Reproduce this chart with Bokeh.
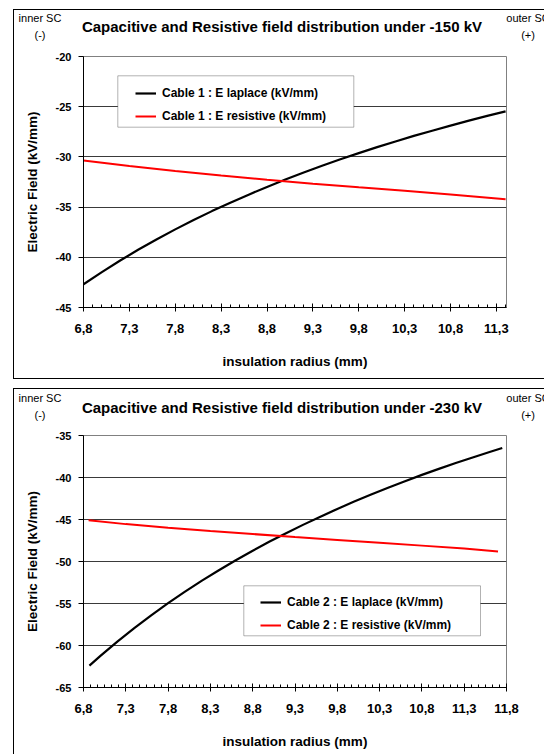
import math
from bokeh.plotting import figure
from bokeh.models import (Range1d, FixedTicker, CustomJSTickFormatter,
                          Legend, LegendItem, BoxAnnotation, Div)
from bokeh.layouts import column, row
from bokeh.embed import file_html
from bokeh.resources import INLINE

FONT = "Liberation Sans"

# ---------------- Chart 1 (-150 kV) ----------------
c1_title = "Capacitive and Resistive field distribution under -150 kV"
c1_labels = ["Cable 1 : E laplace (kV/mm)", "Cable 1 : E resistive (kV/mm)"]
c1_r_laplace = [6.8, 7.0, 7.2, 7.4, 7.6, 7.8, 8.0, 8.2, 8.4, 8.6, 8.8, 9.0,
                9.2, 9.4, 9.6, 9.8, 10.0, 10.2, 10.4, 10.6, 10.8, 11.0, 11.2, 11.4]
c1_e_laplace = [-42.69, -41.47, -40.32, -39.23, -38.20, -37.22, -36.29, -35.40,
                -34.56, -33.76, -32.99, -32.26, -31.55, -30.88, -30.24, -29.62,
                -29.03, -28.46, -27.91, -27.39, -26.88, -26.39, -25.92, -25.46]
c1_r_resist = [6.8, 7.3, 7.8, 8.3, 8.8, 9.3, 9.8, 10.3, 10.8, 11.4]
c1_e_resist = [-30.37, -30.90, -31.40, -31.85, -32.27, -32.67, -33.03, -33.37,
               -33.75, -34.22]
c1_xticks = [6.8, 7.3, 7.8, 8.3, 8.8, 9.3, 9.8, 10.3, 10.8, 11.3]
c1_yticks = [-45, -40, -35, -30, -25, -20]

# ---------------- Chart 2 (-230 kV) ----------------
c2_title = "Capacitive and Resistive field distribution under -230 kV"
c2_labels = ["Cable 2 : E laplace (kV/mm)", "Cable 2 : E resistive (kV/mm)"]
c2_r_laplace = [6.87, 7.0, 7.2, 7.4, 7.6, 7.8, 8.0, 8.2, 8.4, 8.6, 8.8, 9.0,
                9.2, 9.4, 9.6, 9.8, 10.0, 10.2, 10.4, 10.6, 10.8, 11.0, 11.2,
                11.4, 11.6, 11.75]
c2_e_laplace = [-62.40, -61.24, -59.54, -57.93, -56.41, -54.96, -53.59, -52.28,
                -51.04, -49.85, -48.72, -47.63, -46.60, -45.61, -44.66, -43.74,
                -42.87, -42.03, -41.22, -40.44, -39.69, -38.97, -38.28, -37.61,
                -36.96, -36.49]
c2_r_resist = [6.86, 7.3, 7.8, 8.3, 8.8, 9.3, 9.8, 10.3, 10.8, 11.3, 11.7]
c2_e_resist = [-45.10, -45.55, -45.97, -46.36, -46.73, -47.09, -47.43, -47.77,
               -48.11, -48.45, -48.80]
c2_xticks = [6.8, 7.3, 7.8, 8.3, 8.8, 9.3, 9.8, 10.3, 10.8, 11.3, 11.8]
c2_yticks = [-65, -60, -55, -50, -45, -40, -35]

x_label = "insulation radius (mm)"
y_label = "Electric Field (kV/mm)"
left_note = ["inner SC", "(-)"]
right_note = ["outer SC", "(+)"]


def header(title, pad_title, pad_notes):
    note_css = ("font-family:'Liberation Sans';font-size:11px;color:#000;"
                "text-align:center;line-height:17px;white-space:nowrap;margin:0;")
    d_left = Div(width=52, height=36, margin=0,
                 text=f'<div style="{note_css}padding-top:{pad_notes}px;width:52px">'
                      f'{left_note[0]}<br>{left_note[1]}</div>')
    d_title = Div(width=432, height=36, margin=0,
                  text=f'<div style="font-family:\'Liberation Sans\';font-weight:bold;'
                       f'font-size:15px;color:#000;text-align:center;line-height:18px;'
                       f'white-space:nowrap;margin:0;padding-top:{pad_title}px;width:432px">'
                       f'{title}</div>')
    d_right = Div(width=46, height=36, margin=0, styles={"overflow": "hidden"},
                  text=f'<div style="{note_css}padding-top:{pad_notes}px;width:60px">'
                       f'{right_note[0]}<br>{right_note[1]}</div>')
    return row(d_left, d_title, d_right, spacing=0)


def make_chart(r_lap, e_lap, r_res, e_res, labels, xticks, x_end, n_minor,
               yticks, height, mb_bottom, leg_loc, box):
    p = figure(width=530, height=height, output_backend="svg", toolbar_location=None,
               x_range=Range1d(xticks[0], x_end), y_range=Range1d(yticks[0], yticks[-1]))
    p.min_border_left = 69
    p.min_border_right = 38
    p.min_border_top = 10
    p.min_border_bottom = mb_bottom
    p.background_fill_color = "white"
    p.border_fill_color = "white"
    p.outline_line_color = "#808080"
    p.outline_line_width = 1

    step = (xticks[1] - xticks[0]) / n_minor
    n_all = int(round((x_end - xticks[0]) / step))
    minor = [xticks[0] + i * step for i in range(n_all + 1)]
    xt = FixedTicker(ticks=xticks, minor_ticks=minor)
    yt = FixedTicker(ticks=yticks, minor_ticks=[])
    p.xaxis.ticker = xt
    p.yaxis.ticker = yt
    p.ygrid.ticker = yt
    p.xgrid.visible = False
    p.ygrid.grid_line_color = "#3a3a3a"
    p.ygrid.grid_line_width = 1

    p.xaxis.formatter = CustomJSTickFormatter(code="return tick.toFixed(1).replace('.', ',')")
    p.yaxis.formatter = CustomJSTickFormatter(code="return tick.toFixed(0)")

    for ax in (p.xaxis[0], p.yaxis[0]):
        ax.axis_line_color = "black"
        ax.major_tick_line_color = "black"
        ax.minor_tick_line_color = "black"
        ax.major_label_text_font = FONT
        ax.major_label_text_font_style = "bold"
        ax.major_label_text_color = "black"
        ax.axis_label_text_font = FONT
        ax.axis_label_text_font_style = "bold"
        ax.axis_label_text_font_size = "13.5px"
        ax.axis_label_text_color = "black"
    p.xaxis.major_tick_in = 4
    p.xaxis.major_tick_out = 4
    p.xaxis.minor_tick_in = 3
    p.xaxis.minor_tick_out = 0
    p.xaxis.major_label_text_font_size = "13px"
    p.xaxis.major_label_standoff = 12
    p.xaxis.axis_label = x_label
    p.xaxis.axis_label_standoff = 18
    p.yaxis.major_tick_in = 0
    p.yaxis.major_tick_out = 5
    p.yaxis.minor_tick_in = 0
    p.yaxis.minor_tick_out = 0
    p.yaxis.major_label_text_font_size = "11px"
    p.yaxis.major_label_standoff = 7
    p.yaxis.axis_label = y_label
    p.yaxis.axis_label_standoff = 13

    r1 = p.line(r_lap, e_lap, line_color="black", line_width=2.2)
    r2 = p.line(r_res, e_res, line_color="#ff0000", line_width=2)

    p.add_layout(BoxAnnotation(left=box[0], right=box[1], top=box[2], bottom=box[3],
                               left_units="screen", right_units="screen",
                               top_units="screen", bottom_units="screen",
                               fill_color="white", fill_alpha=1.0,
                               line_color="black", line_width=1))
    leg = Legend(items=[LegendItem(label=labels[0], renderers=[r1]),
                        LegendItem(label=labels[1], renderers=[r2])],
                 location=leg_loc, padding=4, spacing=7, glyph_width=21,
                 glyph_height=16, label_height=16, label_standoff=6,
                 border_line_color=None, background_fill_alpha=0.0,
                 label_text_font=FONT, label_text_font_style="bold",
                 label_text_font_size="12px", label_text_color="black",
                 margin=0)
    p.add_layout(leg)
    return p


p1 = make_chart(c1_r_laplace, c1_e_laplace, c1_r_resist, c1_e_resist, c1_labels,
                c1_xticks, 11.41, 5, c1_yticks, 332, 71,
                (52, 183), (34.3, 270.3, 231.7, 180.3))
p2 = make_chart(c2_r_laplace, c2_e_laplace, c2_r_resist, c2_e_resist, c2_labels,
                c2_xticks, 11.8, 6, c2_yticks, 329, 67,
                (177, 54), (160.3, 397, 101.7, 51.7))

chart1 = column(header(c1_title, 7.5, 0), p1, spacing=0,
                styles={"margin-left": "13px", "margin-top": "9px",
                        "border-left": "1px solid black", "border-top": "1px solid black",
                        "border-bottom": "1px solid black"})
chart2 = column(header(c2_title, 9.5, 1), p2, spacing=0,
                styles={"margin-left": "13px",
                        "border-left": "1px solid black", "border-top": "1px solid black"})

layout = column(chart1, chart2, spacing=9)
open("out.html", "w").write(file_html(layout, INLINE))
